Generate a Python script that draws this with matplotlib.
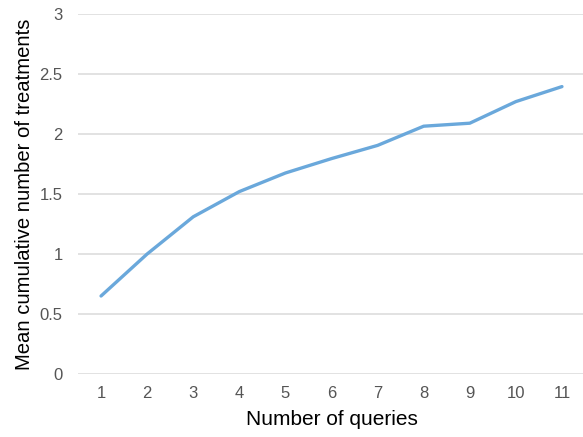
import matplotlib
matplotlib.use("Agg")
import matplotlib.pyplot as plt

queries = [1, 2, 3, 4, 5, 6, 7, 8, 9, 10, 11]
mean_treatments = [0.65, 1.0, 1.31, 1.52, 1.675, 1.795, 1.905, 2.065, 2.09, 2.27, 2.395]
y_ticks = [0, 0.5, 1, 1.5, 2, 2.5, 3]
y_tick_labels = ["0", "0.5", "1", "1.5", "2", "2.5", "3"]

plt.rcParams['font.family'] = ['Liberation Sans', 'DejaVu Sans']

W, H = 583, 437
fig = plt.figure(figsize=(W / 100, H / 100), dpi=100)
ax = fig.add_axes([78 / W, (H - 374) / H, (585 - 78) / W, (374 - 14) / H])

ax.plot(queries, mean_treatments, color="#6aa8db", linewidth=2.4, solid_capstyle="round", solid_joinstyle="round", zorder=3)

ax.set_xlim(0.5, 11.5)
ax.set_ylim(0, 3)
ax.set_xticks(queries)
ax.set_xticklabels([str(q) for q in queries])
ax.set_yticks(y_ticks)
ax.set_yticklabels(y_tick_labels)

ax.yaxis.grid(True, color="#dddddd", linewidth=1.2)
ax.xaxis.grid(False)
ax.set_axisbelow(True)
for s in ax.spines.values():
    s.set_visible(False)
ax.tick_params(axis="both", length=0, labelsize=12, labelcolor="#555555")
ax.tick_params(axis="y", pad=11)
ax.tick_params(axis="x", pad=9)

ax.set_xlabel("Number of queries", fontsize=15, color="black", labelpad=6)
ax.set_ylabel("Mean cumulative number of treatments", fontsize=14.6, color="black", labelpad=4)

fig.savefig("out.png", dpi=100)
